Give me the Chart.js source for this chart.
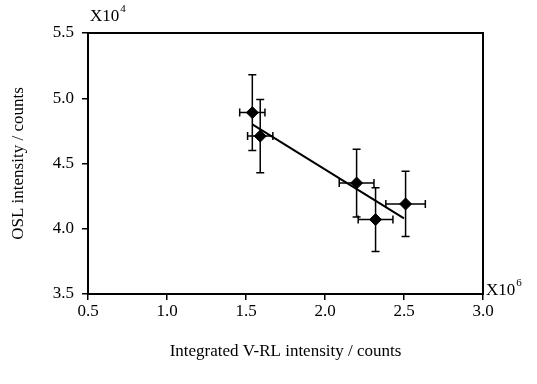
<!DOCTYPE html>
<html>
<head>
<meta charset="utf-8">
<script src="https://cdn.jsdelivr.net/npm/chart.js@4/dist/chart.umd.min.js"></script>
<style>
    html, body { margin: 0; padding: 0; background: #fff; }
    #wrap { width: 537px; height: 384px; }
</style>
</head>
<body>
<div id="wrap"><canvas id="oslChart" width="537" height="384"></canvas></div>
<script>
// data (x in 10^6 counts, y in 10^4 counts)
const vrlValues = [1.54, 1.59, 2.20, 2.32, 2.51];
const oslValues = [4.89, 4.71, 4.35, 4.07, 4.19];
const vrlErrors = [0.08, 0.08, 0.11, 0.11, 0.125];
const oslErrors = [0.29, 0.28, 0.26, 0.245, 0.25];
const fitX = [1.54, 2.50];
const fitY = [4.80, 4.08];
const xTicks = [0.5, 1.0, 1.5, 2.0, 2.5, 3.0];
const yTicks = [3.5, 4.0, 4.5, 5.0, 5.5];

const serif = "'Liberation Serif', 'Times New Roman', serif";

// frame, error bars and the exponent labels
const errorBarPlugin = {
    id: 'errorBars',
    afterDatasetsDraw(chart) {
        const ctx = chart.ctx;
        const xs = chart.scales.x, ys = chart.scales.y;
        const area = chart.chartArea;
        ctx.save();
        ctx.strokeStyle = '#000';
        ctx.lineWidth = 1.5;
        const cap = 4;
        vrlValues.forEach((xv, i) => {
            const px = xs.getPixelForValue(xv);
            const py = ys.getPixelForValue(oslValues[i]);
            const yTop = ys.getPixelForValue(oslValues[i] + oslErrors[i]);
            const yBot = ys.getPixelForValue(oslValues[i] - oslErrors[i]);
            const xL = xs.getPixelForValue(xv - vrlErrors[i]);
            const xR = xs.getPixelForValue(xv + vrlErrors[i]);
            ctx.beginPath();
            ctx.moveTo(px, yTop); ctx.lineTo(px, yBot);
            ctx.moveTo(px - cap, yTop); ctx.lineTo(px + cap, yTop);
            ctx.moveTo(px - cap, yBot); ctx.lineTo(px + cap, yBot);
            ctx.moveTo(xL, py); ctx.lineTo(xR, py);
            ctx.moveTo(xL, py - cap); ctx.lineTo(xL, py + cap);
            ctx.moveTo(xR, py - cap); ctx.lineTo(xR, py + cap);
            ctx.stroke();
        });
        // box round the plot
        ctx.lineWidth = 2;
        ctx.strokeRect(area.left, area.top, area.right - area.left, area.bottom - area.top);

        ctx.fillStyle = '#000';
        ctx.textBaseline = 'alphabetic';
        ctx.textAlign = 'left';
        ctx.font = '17px ' + serif;
        ctx.fillText('X10', area.left + 2, 21);
        const w1 = ctx.measureText('X10').width;
        ctx.fillText('X10', area.right + 3, area.bottom + 1);
        const w2 = ctx.measureText('X10').width;
        ctx.font = '11px ' + serif;
        ctx.fillText('4', area.left + 2 + w1 + 1, 12);
        ctx.fillText('6', area.right + 3 + w2 + 1, area.bottom - 8);
        ctx.restore();
    }
};

const ctx = document.getElementById('oslChart').getContext('2d');
new Chart(ctx, {
    type: 'scatter',
    data: {
        datasets: [{
            label: 'data',
            data: vrlValues.map((x, i) => ({ x: x, y: oslValues[i] })),
            pointStyle: 'rectRot',
            pointRadius: 6,
            pointHoverRadius: 6,
            backgroundColor: '#000',
            borderColor: '#000',
            order: 1
        }, {
            label: 'fit',
            type: 'line',
            data: fitX.map((x, i) => ({ x: x, y: fitY[i] })),
            borderColor: '#000',
            borderWidth: 2,
            pointRadius: 0,
            fill: false,
            order: 2
        }]
    },
    options: {
        responsive: false,
        animation: false,
        events: [],
        layout: { padding: { top: 33, right: 54, left: 6, bottom: 22 } },
        plugins: { legend: { display: false }, tooltip: { enabled: false } },
        scales: {
            x: {
                type: 'linear',
                min: 0.5,
                max: 3.0,
                afterBuildTicks: scale => { scale.ticks = xTicks.map(v => ({ value: v })); },
                afterFit: scale => { scale.height = 68; },
                grid: { drawOnChartArea: false, drawTicks: true, tickLength: 6, color: '#000', lineWidth: 1.5 },
                border: { display: true, color: '#000', width: 2 },
                ticks: {
                    color: '#000',
                    font: { family: serif, size: 17 },
                    padding: 1,
                    maxRotation: 0,
                    callback: v => v.toFixed(1)
                },
                title: {
                    display: true,
                    text: 'Integrated V-RL intensity / counts',
                    color: '#000',
                    font: { family: serif, size: 17 },
                    padding: { top: 4, bottom: 0 }
                }
            },
            y: {
                type: 'linear',
                min: 3.5,
                max: 5.5,
                afterBuildTicks: scale => { scale.ticks = yTicks.map(v => ({ value: v })); },
                afterFit: scale => { scale.width = 82; },
                grid: { drawOnChartArea: false, drawTicks: true, tickLength: 6, color: '#000', lineWidth: 1.5 },
                border: { display: true, color: '#000', width: 2 },
                ticks: {
                    color: '#000',
                    font: { family: serif, size: 17 },
                    padding: 8,
                    callback: v => v.toFixed(1)
                },
                title: {
                    display: true,
                    text: 'OSL intensity / counts',
                    color: '#000',
                    font: { family: serif, size: 17 },
                    padding: { top: 2, bottom: 4 }
                }
            }
        }
    },
    plugins: [errorBarPlugin]
});
</script>
</body>
</html>
